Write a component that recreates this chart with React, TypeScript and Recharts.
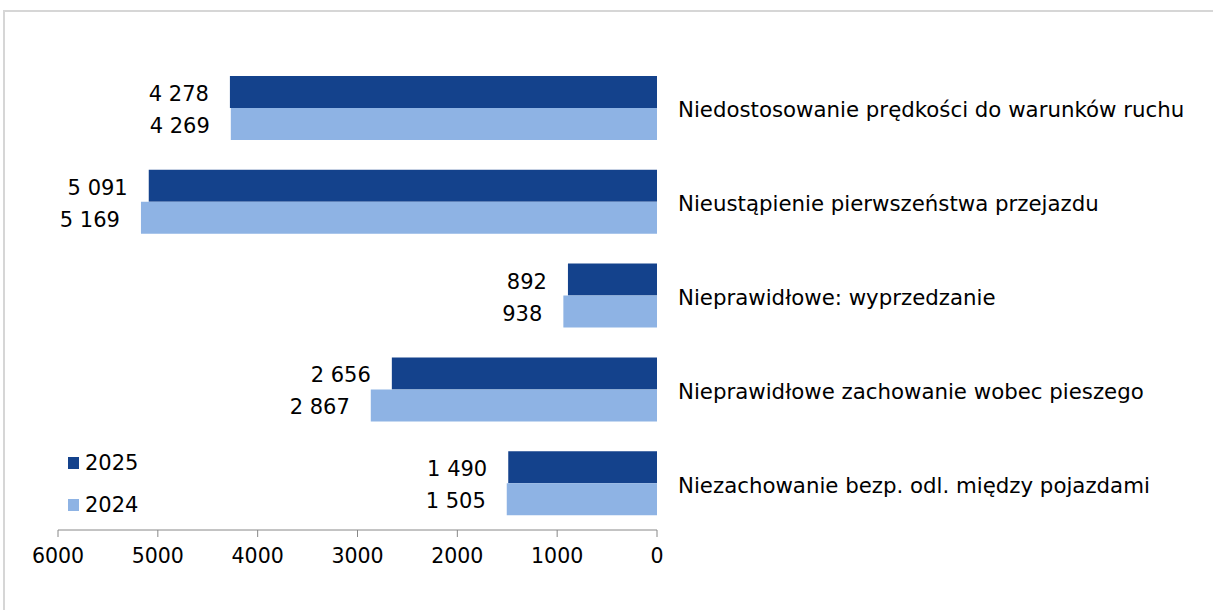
import { Bar, BarChart, LabelList, XAxis, YAxis } from 'recharts';

const categories = [
  'Niedostosowanie prędkości do warunków ruchu',
  'Nieustąpienie pierwszeństwa przejazdu',
  'Nieprawidłowe: wyprzedzanie',
  'Nieprawidłowe zachowanie wobec pieszego',
  'Niezachowanie bezp. odl. między pojazdami',
];
const values2025 = [4278, 5091, 892, 2656, 1490];
const values2024 = [4269, 5169, 938, 2867, 1505];
const xTicks = [0, 1000, 2000, 3000, 4000, 5000, 6000];

const DARK = '#14428c';
const LIGHT = '#8eb3e4';
const FONT = '"DejaVu Sans", Verdana, sans-serif';

const data = categories.map((name, i) => ({
  name,
  y2025: values2025[i],
  y2024: values2024[i],
}));

const legendItems = [
  { label: '2025', color: DARK },
  { label: '2024', color: LIGHT },
];

const fmt = (v: number) => String(v).replace(/\B(?=(\d{3})+(?!\d))/g, ' ');

// label sits left of the bar's far end, right-aligned
const renderValue = (props: any) => {
  const box = props.viewBox ?? props;
  const { x, y, width, height } = box;
  const left = Math.min(x, x + width);
  return (
    <text
      x={left - 21}
      y={y + height / 2 + 2}
      textAnchor="end"
      dominantBaseline="central"
      fontSize={21}
      fontFamily={FONT}
      fill="#000"
    >
      {fmt(Number(props.value))}
    </text>
  );
};

const renderCategory = (props: any) => {
  const { x, y, payload } = props;
  return (
    <text
      x={x}
      y={y + 2}
      textAnchor="start"
      dominantBaseline="central"
      fontSize={21.3}
      fontFamily={FONT}
      fill="#000"
    >
      {payload.value}
    </text>
  );
};

export default function App() {
  return (
    <div
      style={{
        position: 'absolute',
        left: 0,
        top: 0,
        width: 1213,
        height: 610,
        overflow: 'hidden',
        background: '#fff',
      }}
    >
      <div
        style={{
          position: 'absolute',
          left: 3,
          top: 10,
          width: 1240,
          height: 640,
          border: '2px solid #d6d6d6',
        }}
      />
      <div style={{ position: 'absolute', left: 0, top: 0 }}>
        <BarChart
          width={1213}
          height={610}
          data={data}
          layout="vertical"
          margin={{ top: 61, right: 0, bottom: 0, left: 58 }}
          barGap={0}
        >
          <XAxis
            type="number"
            reversed
            domain={[0, 6000]}
            ticks={xTicks}
            interval={0}
            height={80}
            stroke="#888"
            tickSize={7}
            tickMargin={11}
            tick={{ fontSize: 20.5, fill: '#000', fontFamily: FONT }}
          />
          <YAxis
            type="category"
            dataKey="name"
            orientation="right"
            width={556}
            axisLine={false}
            tickLine={false}
            tickSize={0}
            tickMargin={21}
            interval={0}
            tick={renderCategory}
          />
          <Bar dataKey="y2025" name="2025" fill={DARK} barSize={32} isAnimationActive={false}>
            <LabelList dataKey="y2025" content={renderValue} />
          </Bar>
          <Bar dataKey="y2024" name="2024" fill={LIGHT} barSize={32} isAnimationActive={false}>
            <LabelList dataKey="y2024" content={renderValue} />
          </Bar>
        </BarChart>
      </div>
      <div
        style={{
          position: 'absolute',
          left: 68,
          top: 442,
          fontFamily: FONT,
          fontSize: 21,
          color: '#000',
        }}
      >
        {legendItems.map((it) => (
          <div key={it.label} style={{ display: 'flex', alignItems: 'center', height: 42 }}>
            <span style={{ width: 11, height: 12, background: it.color, marginRight: 6 }} />
            <span>{it.label}</span>
          </div>
        ))}
      </div>
    </div>
  );
}
